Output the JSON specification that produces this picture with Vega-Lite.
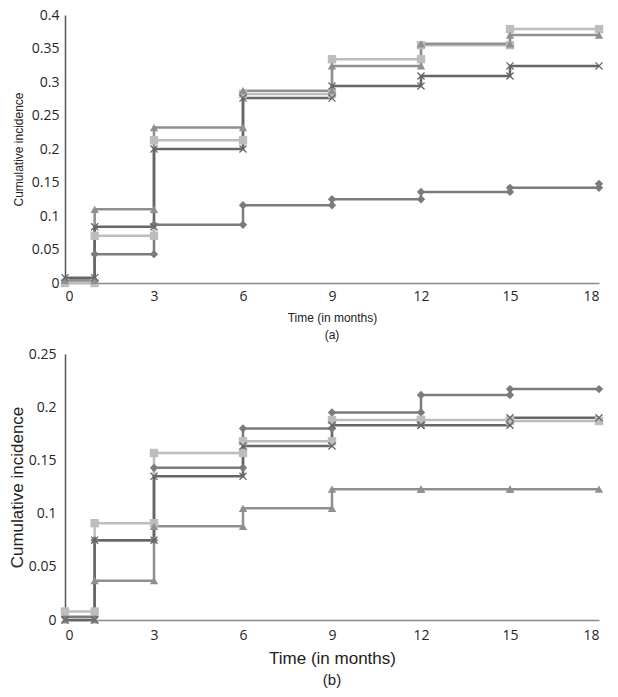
{
  "$schema": "https://vega.github.io/schema/vega-lite/v6.json",
  "padding": {"left": 8, "top": 8, "right": 10, "bottom": 5},
  "background": "white",
  "spacing": 6,
  "datasets": {
    "a": [
      {"s":"D","i":0,"t":0,"v":0.004},{"s":"D","i":1,"t":1,"v":0.004},{"s":"D","i":2,"t":1,"v":0.043},{"s":"D","i":3,"t":3,"v":0.043},{"s":"D","i":4,"t":3,"v":0.087},{"s":"D","i":5,"t":6,"v":0.087},{"s":"D","i":6,"t":6,"v":0.116},{"s":"D","i":7,"t":9,"v":0.116},{"s":"D","i":8,"t":9,"v":0.125},{"s":"D","i":9,"t":12,"v":0.125},{"s":"D","i":10,"t":12,"v":0.136},{"s":"D","i":11,"t":15,"v":0.136},{"s":"D","i":12,"t":15,"v":0.142},{"s":"D","i":13,"t":18,"v":0.142},{"s":"D","i":14,"t":18,"v":0.148},
      {"s":"S","i":0,"t":0,"v":0.0},{"s":"S","i":1,"t":1,"v":0.0},{"s":"S","i":2,"t":1,"v":0.0705},{"s":"S","i":3,"t":3,"v":0.0705},{"s":"S","i":4,"t":3,"v":0.213},{"s":"S","i":5,"t":6,"v":0.213},{"s":"S","i":6,"t":6,"v":0.282},{"s":"S","i":7,"t":9,"v":0.282},{"s":"S","i":8,"t":9,"v":0.334},{"s":"S","i":9,"t":12,"v":0.334},{"s":"S","i":10,"t":12,"v":0.355},{"s":"S","i":11,"t":15,"v":0.355},{"s":"S","i":12,"t":15,"v":0.379},{"s":"S","i":13,"t":18,"v":0.379},
      {"s":"T","i":0,"t":0,"v":0.004},{"s":"T","i":1,"t":1,"v":0.004},{"s":"T","i":2,"t":1,"v":0.110},{"s":"T","i":3,"t":3,"v":0.110},{"s":"T","i":4,"t":3,"v":0.232},{"s":"T","i":5,"t":6,"v":0.232},{"s":"T","i":6,"t":6,"v":0.287},{"s":"T","i":7,"t":9,"v":0.287},{"s":"T","i":8,"t":9,"v":0.324},{"s":"T","i":9,"t":12,"v":0.324},{"s":"T","i":10,"t":12,"v":0.357},{"s":"T","i":11,"t":15,"v":0.357},{"s":"T","i":12,"t":15,"v":0.370},{"s":"T","i":13,"t":18,"v":0.370},
      {"s":"X","i":0,"t":0,"v":0.008},{"s":"X","i":1,"t":1,"v":0.008},{"s":"X","i":2,"t":1,"v":0.084},{"s":"X","i":3,"t":3,"v":0.084},{"s":"X","i":4,"t":3,"v":0.200},{"s":"X","i":5,"t":6,"v":0.200},{"s":"X","i":6,"t":6,"v":0.276},{"s":"X","i":7,"t":9,"v":0.276},{"s":"X","i":8,"t":9,"v":0.294},{"s":"X","i":9,"t":12,"v":0.294},{"s":"X","i":10,"t":12,"v":0.309},{"s":"X","i":11,"t":15,"v":0.309},{"s":"X","i":12,"t":15,"v":0.324},{"s":"X","i":13,"t":18,"v":0.324}
    ],
    "b": [
      {"s":"D","i":0,"t":0,"v":0.003},{"s":"D","i":1,"t":1,"v":0.003},{"s":"D","i":2,"t":1,"v":0.075},{"s":"D","i":3,"t":3,"v":0.075},{"s":"D","i":4,"t":3,"v":0.143},{"s":"D","i":5,"t":6,"v":0.143},{"s":"D","i":6,"t":6,"v":0.180},{"s":"D","i":7,"t":9,"v":0.180},{"s":"D","i":8,"t":9,"v":0.195},{"s":"D","i":9,"t":12,"v":0.195},{"s":"D","i":10,"t":12,"v":0.2115},{"s":"D","i":11,"t":15,"v":0.2115},{"s":"D","i":12,"t":15,"v":0.217},{"s":"D","i":13,"t":18,"v":0.217},
      {"s":"S","i":0,"t":0,"v":0.008},{"s":"S","i":1,"t":1,"v":0.008},{"s":"S","i":2,"t":1,"v":0.091},{"s":"S","i":3,"t":3,"v":0.091},{"s":"S","i":4,"t":3,"v":0.157},{"s":"S","i":5,"t":6,"v":0.157},{"s":"S","i":6,"t":6,"v":0.168},{"s":"S","i":7,"t":9,"v":0.168},{"s":"S","i":8,"t":9,"v":0.188},{"s":"S","i":9,"t":12,"v":0.188},{"s":"S","i":10,"t":12,"v":0.188},{"s":"S","i":11,"t":15,"v":0.188},{"s":"S","i":12,"t":15,"v":0.187},{"s":"S","i":13,"t":18,"v":0.187},
      {"s":"T","i":0,"t":0,"v":0.0},{"s":"T","i":1,"t":1,"v":0.0},{"s":"T","i":2,"t":1,"v":0.037},{"s":"T","i":3,"t":3,"v":0.037},{"s":"T","i":4,"t":3,"v":0.088},{"s":"T","i":5,"t":6,"v":0.088},{"s":"T","i":6,"t":6,"v":0.105},{"s":"T","i":7,"t":9,"v":0.105},{"s":"T","i":8,"t":9,"v":0.123},{"s":"T","i":9,"t":12,"v":0.123},{"s":"T","i":10,"t":12,"v":0.123},{"s":"T","i":11,"t":15,"v":0.123},{"s":"T","i":12,"t":15,"v":0.123},{"s":"T","i":13,"t":18,"v":0.123},
      {"s":"X","i":0,"t":0,"v":0.0},{"s":"X","i":1,"t":1,"v":0.0},{"s":"X","i":2,"t":1,"v":0.075},{"s":"X","i":3,"t":3,"v":0.075},{"s":"X","i":4,"t":3,"v":0.135},{"s":"X","i":5,"t":6,"v":0.135},{"s":"X","i":6,"t":6,"v":0.1635},{"s":"X","i":7,"t":9,"v":0.1635},{"s":"X","i":8,"t":9,"v":0.183},{"s":"X","i":9,"t":12,"v":0.183},{"s":"X","i":10,"t":12,"v":0.183},{"s":"X","i":11,"t":15,"v":0.183},{"s":"X","i":12,"t":15,"v":0.190},{"s":"X","i":13,"t":18,"v":0.190}
    ]
  },
  "config": {
    "view": {"stroke": null},
    "axis": {"grid": false, "ticks": false, "labelFont": "Open Sans", "labelFontSize": 14, "labelColor": "#262626", "titleFont": "Liberation Sans", "titleFontWeight": "normal", "titleColor": "#222222", "domainWidth": 1.5, "format": "~g"},
    "axisX": {"domainColor": "#888888"},
    "axisY": {"domainColor": "#555555"},
    "title": {"font": "Liberation Sans", "fontWeight": "normal", "color": "#222222"}
  },
  "vconcat": [
    {
      "width": 534,
      "height": 268,
      "data": {"name": "a"},
      "title": {"text": "(a)", "orient": "bottom", "anchor": "middle", "fontSize": 12, "offset": 7},
      "encoding": {
        "x": {"field": "t", "type": "quantitative", "scale": {"domain": [0, 18], "nice": false, "zero": false}, "axis": {"values": [0,3,6,9,12,15,18], "title": "Time (in months)", "titleFontSize": 12, "labelPadding": 6, "titlePadding": 9}},
        "y": {"field": "v", "type": "quantitative", "scale": {"domain": [0, 0.4], "nice": false}, "axis": {"values": [0,0.05,0.1,0.15,0.2,0.25,0.3,0.35,0.4], "title": "Cumulative incidence", "titleFontSize": 12, "labelPadding": 6, "titlePadding": 6}},
        "color": {"field": "s", "type": "nominal", "scale": {"domain": ["D","S","T","X"], "range": ["#7b7b7b","#bdbdbd","#8f8f8f","#666666"]}, "legend": null}
      },
      "layer": [
        {"mark": {"type": "line", "strokeWidth": 2.5}, "encoding": {"order": {"field": "i", "type": "quantitative"}}},
        {"transform": [{"filter": "datum.s !== 'X'"}], "mark": {"type": "point", "filled": true, "opacity": 1, "size": 70}, "encoding": {"shape": {"field": "s", "type": "nominal", "scale": {"domain": ["D","S","T"], "range": ["diamond","square","triangle-up"]}, "legend": null}}},
        {"transform": [{"filter": "datum.s === 'X'"}], "mark": {"type": "point", "filled": false, "opacity": 1, "size": 50, "strokeWidth": 1.3, "shape": "M-1,-1L1,1M-1,1L1,-1"}}
      ]
    },
    {
      "width": 534,
      "height": 266,
      "data": {"name": "b"},
      "title": {"text": "(b)", "orient": "bottom", "anchor": "middle", "fontSize": 15, "offset": 7},
      "encoding": {
        "x": {"field": "t", "type": "quantitative", "scale": {"domain": [0, 18], "nice": false, "zero": false}, "axis": {"values": [0,3,6,9,12,15,18], "title": "Time (in months)", "titleFontSize": 17, "labelPadding": 8, "titlePadding": 8}},
        "y": {"field": "v", "type": "quantitative", "scale": {"domain": [0, 0.25], "nice": false}, "axis": {"values": [0,0.05,0.1,0.15,0.2,0.25], "title": "Cumulative incidence", "titleFontSize": 17, "labelPadding": 9, "titlePadding": 2}},
        "color": {"field": "s", "type": "nominal", "scale": {"domain": ["D","S","T","X"], "range": ["#7b7b7b","#bdbdbd","#8f8f8f","#666666"]}, "legend": null}
      },
      "layer": [
        {"mark": {"type": "line", "strokeWidth": 2.5}, "encoding": {"order": {"field": "i", "type": "quantitative"}}},
        {"transform": [{"filter": "datum.s !== 'X'"}], "mark": {"type": "point", "filled": true, "opacity": 1, "size": 70}, "encoding": {"shape": {"field": "s", "type": "nominal", "scale": {"domain": ["D","S","T"], "range": ["diamond","square","triangle-up"]}, "legend": null}}},
        {"transform": [{"filter": "datum.s === 'X'"}], "mark": {"type": "point", "filled": false, "opacity": 1, "size": 50, "strokeWidth": 1.3, "shape": "M-1,-1L1,1M-1,1L1,-1"}}
      ]
    }
  ]
}
